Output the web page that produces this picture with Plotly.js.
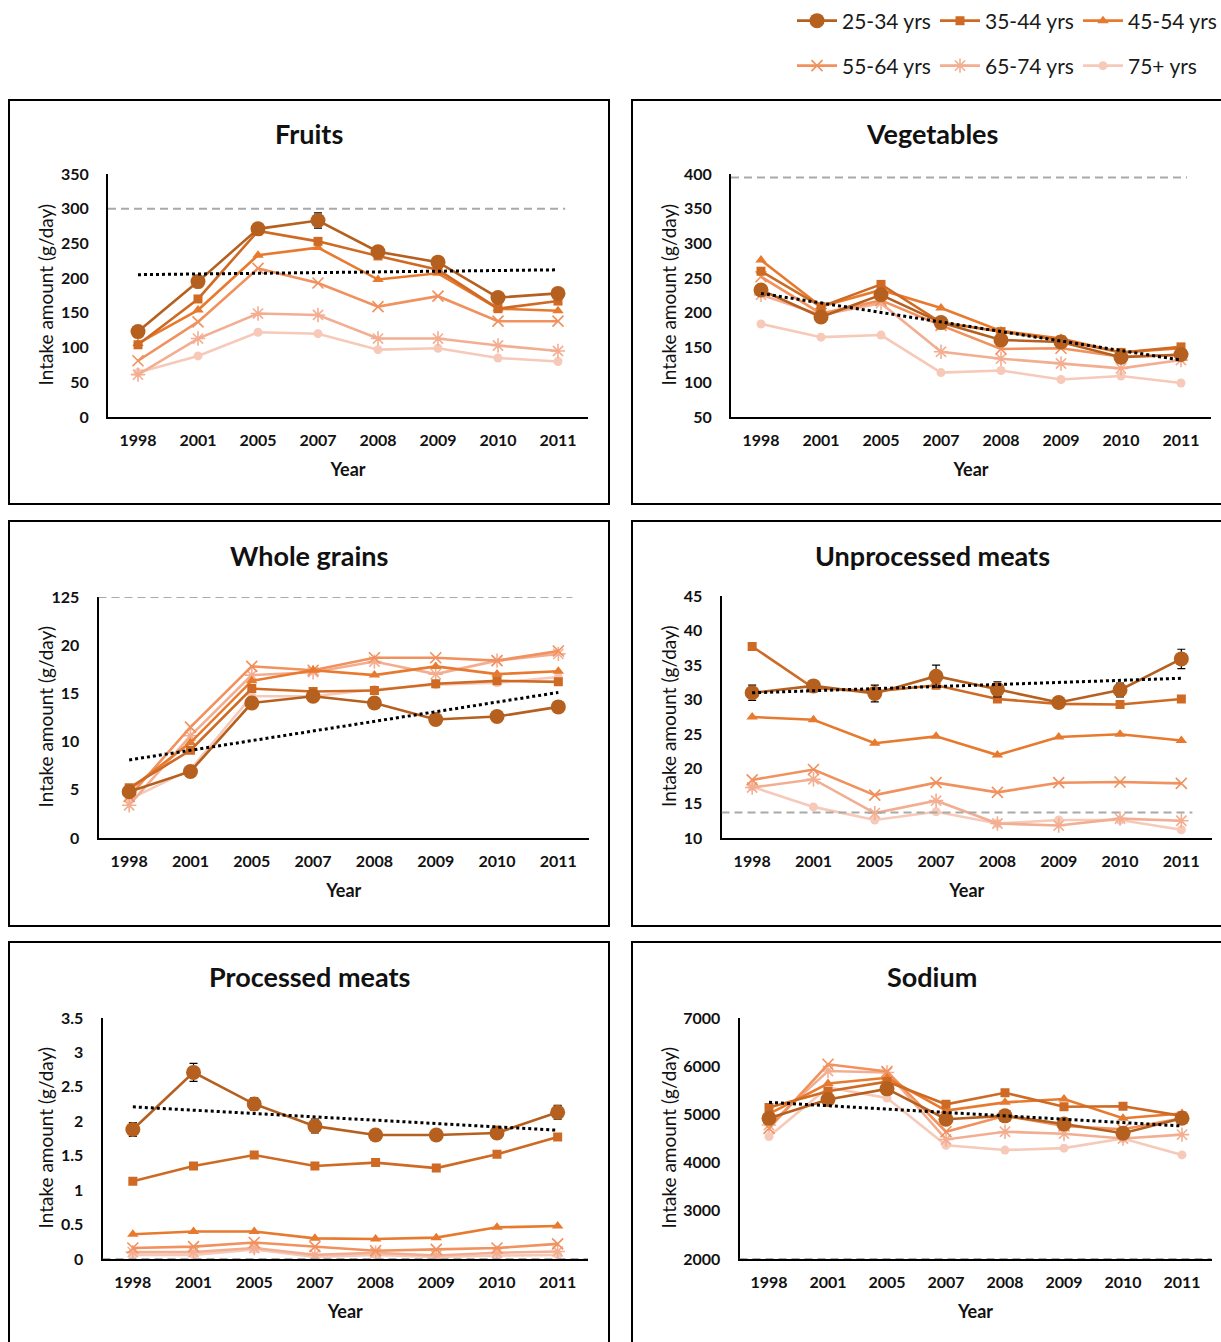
<!DOCTYPE html>
<html>
<head>
<meta charset="utf-8">
<script src="https://cdn.plot.ly/plotly-3.0.1.min.js"></script>
<style>
  html, body { margin: 0; padding: 0; background: #fff; }
  #chart { width: 1221px; height: 1342px; }
</style>
</head>
<body>
<div id="chart"></div>
<script>
// ---------------- DATA ----------------
const years = ['1998', '2001', '2005', '2007', '2008', '2009', '2010', '2011'];
const ageGroups = ['25-34 yrs', '35-44 yrs', '45-54 yrs', '55-64 yrs', '65-74 yrs', '75+ yrs'];
const panelTitles = ['Fruits', 'Vegetables', 'Whole grains', 'Unprocessed meats', 'Processed meats', 'Sodium'];

// Fruits (g/day)
const fruits2534 = [123, 195, 271, 283, 238, 223, 172, 178];
const fruits3544 = [104, 170, 268, 253, 232, 212, 156, 167];
const fruits4554 = [106, 154, 233, 244, 198, 207, 156, 153];
const fruits5564 = [81, 137, 214, 193, 159, 174, 138, 138];
const fruits6574 = [61, 113, 149, 147, 113, 113, 103, 95];
const fruits75 = [64, 88, 122, 120, 97, 99, 85, 80];
const fruitsErr = [6, 6, 7, 11, 6, 6, 6, 6];
const fruitsTrend = [205, 212];
const fruitsGoal = [300];

// Vegetables (g/day)
const veg2534 = [233, 194, 226, 186, 161, 158, 136, 140];
const veg3544 = [260, 209, 241, 186, 173, 161, 143, 151];
const veg4554 = [276, 209, 233, 207, 174, 163, 143, 149];
const veg5564 = [252, 199, 218, 182, 148, 149, 137, 139];
const veg6574 = [226, 197, 214, 144, 134, 127, 120, 132];
const veg75 = [184, 165, 168, 114, 117, 104, 109, 99];
const vegErr = [5, 4, 5, 4, 4, 4, 4, 4];
const vegTrend = [228, 132];
const vegGoal = [395];

// Whole grains (g/day)
const wg2534 = [4.8, 6.9, 14.0, 14.7, 14.0, 12.3, 12.6, 13.6];
const wg3544 = [5.2, 9.1, 15.5, 15.2, 15.3, 16.0, 16.3, 16.2];
const wg4554 = [5.0, 9.9, 16.3, 17.4, 16.9, 17.8, 17.0, 17.3];
const wg5564 = [4.3, 11.5, 17.8, 17.4, 18.7, 18.7, 18.4, 19.4];
const wg6574 = [3.4, 10.6, 16.9, 17.2, 18.3, 17.0, 18.4, 19.1];
const wg75 = [4.0, 7.1, 14.7, 14.7, 15.4, 15.9, 16.1, 16.7];
const wgErr = [0.4, 0.4, 0.4, 0.4, 0.4, 0.4, 0.4, 0.4];
const wgTrend = [8.1, 15.1];
const wgGoal = [25];
const wgTickVals = [0, 5, 10, 15, 20, 25];
const wgTickText = ['0', '5', '10', '15', '20', '125'];

// Unprocessed meats (g/day)
const um2534 = [31.0, 32.0, 30.9, 33.4, 31.5, 29.6, 31.4, 35.9];
const um3544 = [37.7, 31.7, 31.2, 32.1, 30.1, 29.4, 29.3, 30.1];
const um4554 = [27.5, 27.1, 23.7, 24.7, 22.0, 24.6, 25.0, 24.1];
const um5564 = [18.4, 19.9, 16.2, 18.0, 16.6, 18.0, 18.1, 17.9];
const um6574 = [17.3, 18.5, 13.6, 15.4, 12.1, 11.8, 12.8, 12.5];
const um75 = [17.4, 14.5, 12.6, 13.8, 12.1, 12.6, 12.6, 11.2];
const umErr = [1.1, 0.7, 1.2, 1.6, 1.1, 0.7, 1.0, 1.4];
const umTrend = [31.0, 33.1];
const umGoal = [13.7];

// Processed meats (g/day)
const pm2534 = [1.88, 2.71, 2.25, 1.93, 1.80, 1.80, 1.83, 2.13];
const pm3544 = [1.13, 1.35, 1.51, 1.35, 1.40, 1.32, 1.52, 1.77];
const pm4554 = [0.36, 0.40, 0.40, 0.30, 0.29, 0.31, 0.46, 0.48];
const pm5564 = [0.16, 0.18, 0.24, 0.18, 0.12, 0.14, 0.16, 0.22];
const pm6574 = [0.10, 0.10, 0.16, 0.06, 0.09, 0.05, 0.09, 0.11];
const pm75 = [0.06, 0.06, 0.14, 0.03, 0.06, 0.03, 0.05, 0.06];
const pmErr = [0.1, 0.13, 0.09, 0.1, 0.06, 0.06, 0.06, 0.1];
const pmTrend = [2.21, 1.87];
const pmGoal = [0];

// Sodium (mg/day)
const na2534 = [4920, 5310, 5530, 4900, 4970, 4800, 4610, 4920];
const na3544 = [5145, 5480, 5680, 5210, 5450, 5160, 5170, 4970];
const na4554 = [5010, 5640, 5760, 5080, 5250, 5320, 4920, 5020];
const na5564 = [4710, 6040, 5890, 4640, 4970, 4760, 4690, 4920];
const na6574 = [4780, 5900, 5870, 4480, 4640, 4600, 4500, 4580];
const na75 = [4540, 5560, 5340, 4360, 4260, 4300, 4500, 4160];
const naErr = [60, 60, 60, 60, 60, 60, 60, 60];
const naTrend = [5250, 4760];
const naGoal = [2000];

// ---------------- STYLE ----------------
const W = 1221, H = 1342;
const px = x => x / W;
const py = y => 1 - y / H;
const FONT = 'Lato, "Open Sans", "DejaVu Sans", sans-serif';

const colors = ['#B5601F', '#CE6A24', '#E77A2E', '#F0915E', '#F3AE92', '#F6C9B8'];
const symbols = ['circle', 'square', 'triangle-up', 'x-thin-open', 'asterisk-open', 'circle'];
const sizes = [15, 9, 10, 11, 12, 9];

const panels = [
  { series: [fruits2534, fruits3544, fruits4554, fruits5564, fruits6574, fruits75], err: fruitsErr, trend: fruitsTrend, goal: fruitsGoal,
    xd: [108, 588], yd: [174, 417], range: [0, 350], dtick: 50, box: [9, 100, 609, 504], goalEnd: 7.12, ytitleX: 45 },
  { series: [veg2534, veg3544, veg4554, veg5564, veg6574, veg75], err: vegErr, trend: vegTrend, goal: vegGoal,
    xd: [731, 1211], yd: [174, 417], range: [50, 400], dtick: 50, box: [632, 100, 1225, 504], goalEnd: 7.1, ytitleX: 668 },
  { series: [wg2534, wg3544, wg4554, wg5564, wg6574, wg75], err: wgErr, trend: wgTrend, goal: wgGoal,
    xd: [98.5, 589], yd: [597, 838], range: [0, 25], tickvals: wgTickVals, ticktext: wgTickText, box: [9, 521, 609, 926], goalEnd: 7.23, ytitleX: 45 },
  { series: [um2534, um3544, um4554, um5564, um6574, um75], err: umErr, trend: umTrend, goal: umGoal,
    xd: [721.5, 1212], yd: [596, 838], range: [10, 45], dtick: 5, box: [632, 521, 1225, 926], goalEnd: 7.18, ytitleX: 668 },
  { series: [pm2534, pm3544, pm4554, pm5564, pm6574, pm75], err: pmErr, trend: pmTrend, goal: pmGoal,
    xd: [102.5, 588], yd: [1018, 1259], range: [0, 3.5], dtick: 0.5, box: [9, 942, 609, 1346], goalEnd: 7.5, ytitleX: 45 },
  { series: [na2534, na3544, na4554, na5564, na6574, na75], err: naErr, trend: naTrend, goal: naGoal,
    xd: [739.5, 1211.5], yd: [1018, 1259], range: [2000, 7000], dtick: 1000, box: [632, 942, 1225, 1346], goalEnd: 7.5, ytitleX: 668 }
];

const traces = [];
const shapes = [];
const annotations = [];
const legendCommon = {
  orientation: 'h', xanchor: 'right', yanchor: 'middle',
  font: { family: FONT, size: 21, color: '#1a1a1a' }, entrywidth: 88, entrywidthmode: 'pixels',
  itemwidth: 40, bgcolor: 'rgba(0,0,0,0)', borderwidth: 0, traceorder: 'normal'
};
const layout = {
  width: W, height: H,
  margin: { l: 0, r: 0, t: 0, b: 0 },
  paper_bgcolor: '#ffffff',
  plot_bgcolor: 'rgba(0,0,0,0)',
  font: { family: FONT, color: '#000000' },
  showlegend: true,
  legend: Object.assign({}, legendCommon, { x: 1, y: py(21) }),
  legend2: Object.assign({}, legendCommon, { x: 1, y: py(66) }),
  shapes: shapes,
  annotations: annotations
};

panels.forEach((p, i) => {
  const n = i + 1;
  const xa = 'x' + (n === 1 ? '' : n);
  const ya = 'y' + (n === 1 ? '' : n);
  const xKey = 'xaxis' + (n === 1 ? '' : n);
  const yKey = 'yaxis' + (n === 1 ? '' : n);

  layout[xKey] = {
    domain: [px(p.xd[0]), px(p.xd[1])], anchor: ya, type: 'category',
    categoryorder: 'array', categoryarray: years, range: [-0.5, 7.5],
    showline: true, linecolor: '#000000', linewidth: 2, showgrid: false, zeroline: false,
    ticks: '', ticklabelstandoff: 8,
    tickfont: { family: FONT, size: 16, weight: 700, color: '#111' },
    title: { text: 'Year', font: { family: FONT, size: 18, weight: 700, color: '#111' }, standoff: 15 },
    fixedrange: true
  };
  const yAxis = {
    domain: [py(p.yd[1]), py(p.yd[0])], anchor: xa, range: p.range,
    showline: true, linecolor: '#000000', linewidth: 2, showgrid: false, zeroline: false,
    ticks: '', ticklabelstandoff: 14,
    tickfont: { family: FONT, size: 16, weight: 700, color: '#111' },
    fixedrange: true
  };
  if (p.tickvals) { yAxis.tickmode = 'array'; yAxis.tickvals = p.tickvals; yAxis.ticktext = p.ticktext; }
  else { yAxis.tickmode = 'linear'; yAxis.tick0 = p.range[0]; yAxis.dtick = p.dtick; }
  layout[yKey] = yAxis;

  // y axis title placed at a fixed spot within the panel
  annotations.push({
    text: 'Intake amount (g/day)', xref: 'paper', yref: 'paper',
    x: px(p.ytitleX), y: py((p.yd[0] + p.yd[1]) / 2), textangle: -90,
    showarrow: false, xanchor: 'center', yanchor: 'middle',
    font: { family: FONT, size: 19, color: '#111' }
  });
  // panel title
  annotations.push({
    text: panelTitles[i], xref: 'paper', yref: 'paper',
    x: px(i % 2 === 1 ? 932 : 309), y: py(p.box[1] + 34),
    showarrow: false, xanchor: 'center', yanchor: 'middle',
    font: { family: FONT, size: 27, weight: 700, color: '#111' }
  });
  // panel border
  shapes.push({
    type: 'rect', xref: 'paper', yref: 'paper',
    x0: px(p.box[0]), x1: px(p.box[2]), y0: py(p.box[3]), y1: py(p.box[1]),
    line: { color: '#000000', width: 2 }, fillcolor: 'rgba(0,0,0,0)', layer: 'below'
  });
  // goal (dashed) line on the data scale
  shapes.push({
    type: 'line', xref: xa, yref: ya, x0: -0.5, x1: p.goalEnd, y0: p.goal[0], y1: p.goal[0],
    line: { color: '#A9A9A9', width: 2, dash: '8px,5px' }, layer: 'above'
  });

  // series lines (draw lightest first so darker lines sit on top)
  for (let k = 5; k >= 0; k--) {
    const isThin = symbols[k].indexOf('open') >= 0;
    const t = {
      type: 'scatter', mode: 'lines+markers',
      x: years, y: p.series[k], xaxis: xa, yaxis: ya,
      name: ageGroups[k], legendgroup: ageGroups[k],
      legend: k < 3 ? 'legend' : 'legend2',
      legendrank: k,
      showlegend: i === 0,
      line: { color: colors[k], width: 2.6 },
      marker: {
        symbol: symbols[k], size: sizes[k], color: colors[k],
        line: { color: colors[k], width: isThin ? 1.6 : 0 }
      },
      hoverinfo: 'x+y+name'
    };
    if (k === 0) {
      t.error_y = { type: 'data', array: p.err, visible: true, color: '#000000', thickness: 1.2, width: 4 };
    }
    traces.push(t);
  }
  // linear trend (dotted)
  traces.push({
    type: 'scatter', mode: 'lines', x: [years[0], years[years.length - 1]], y: p.trend,
    xaxis: xa, yaxis: ya, showlegend: false, hoverinfo: 'skip',
    line: { color: '#000000', width: 3, dash: 'dot' }
  });
});

Plotly.newPlot('chart', traces, layout, { displayModeBar: false, staticPlot: true });
</script>
</body>
</html>
